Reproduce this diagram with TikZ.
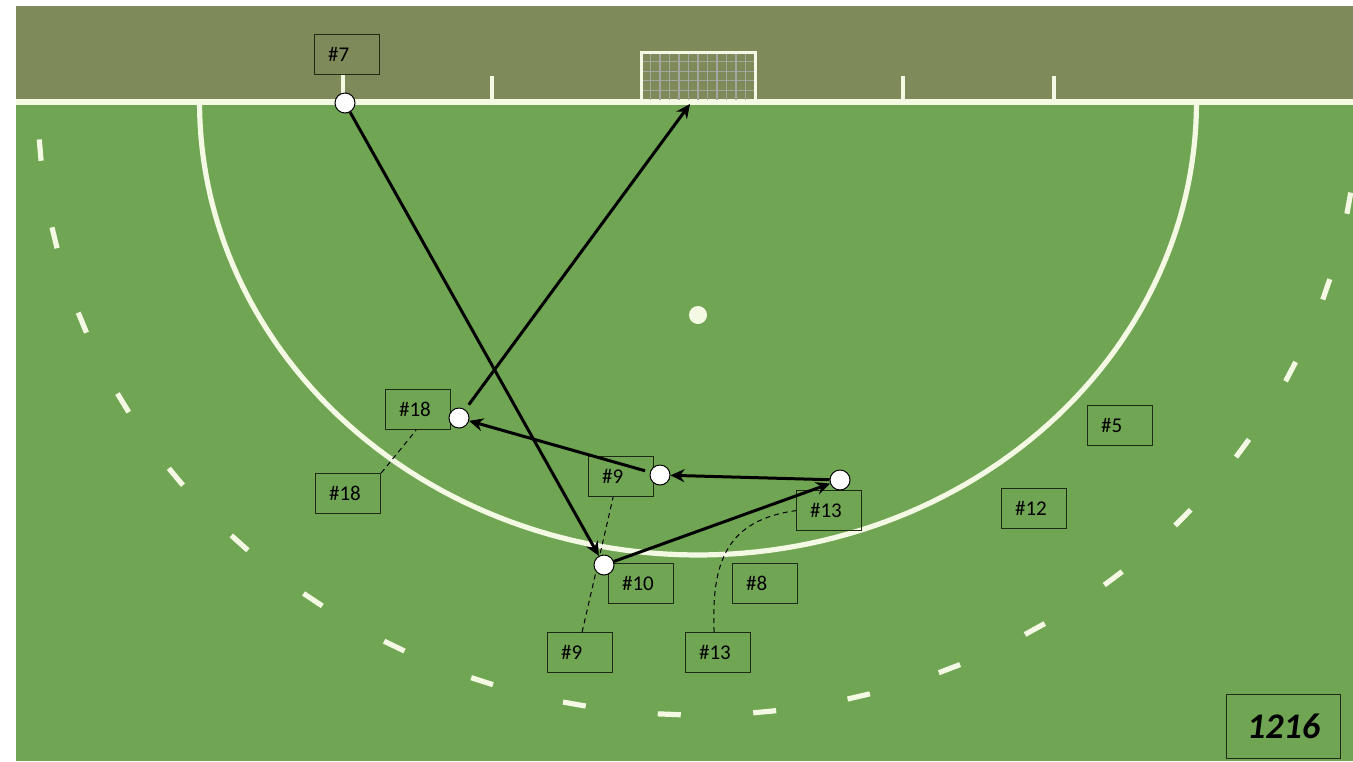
\documentclass[tikz,border=0pt]{standalone}
\usepackage{fontspec}
\setmainfont{Carlito}
\usetikzlibrary{arrows.meta}
\definecolor{turf}{HTML}{70A553}
\definecolor{runoff}{HTML}{7E8A5A}
\definecolor{chalk}{HTML}{F4F9E4}
\definecolor{netgrey}{HTML}{A3A7A0}
\definecolor{frame}{HTML}{1E2A14}

\tikzset{
  player/.style={circle,draw=black,line width=0.5pt,fill=white,minimum size=10pt,inner sep=0pt},
  tag/.style={draw=frame,line width=0.6pt,anchor=north west,minimum height=20pt,text width=19pt,
    inner xsep=6.75pt,inner ysep=0pt,align=left,font=\fontsize{10.5}{12}\selectfont},
  pass/.style={line width=1.5pt,-{Stealth[length=7pt,width=6.5pt]}},
  run/.style={line width=0.5pt,dash pattern=on 2.5pt off 2pt},
  chalkline/.style={chalk,line width=2.6pt},
}

\begin{document}
\begin{tikzpicture}[x=0.5pt,y=-0.5pt]
  \useasboundingbox (0,0) rectangle (1353,761);
  % pitch
  \fill[white] (0,0) rectangle (1353,761);
  \fill[turf] (16,6) rectangle (1353,761);
  \fill[runoff] (16,6) rectangle (1353,100);
  \draw[chalk,line width=3pt] (16,102) -- (1353,102);
  \foreach \tx/\ty in {343/74,492/76,903/76,1054/76}
    \draw[chalk,line width=2pt] (\tx,\ty) -- (\tx,102);
  % shooting circle and dashed 5m line
  \draw[chalkline] plot[domain=180:0,samples=120] ({698+498.5*cos(\x)},{102+453*sin(\x)});
  \begin{scope}
    \clip (16,104) rectangle (1353,761);
    \foreach \t in {9.5,17.8,...,175.6}
      \draw[chalkline] ({698+660*cos(\t-1)},{102+613*sin(\t-1)}) -- ({698+660*cos(\t+1)},{102+613*sin(\t+1)});
  \end{scope}
  \fill[chalk] (698,315) circle[radius=4.5pt];
  % goal
  \foreach \gx in {650.5,660,...,746}
    \draw[netgrey,line width=0.6pt] (\gx,52) -- (\gx,100);
  \foreach \gy in {61.6,71.2,...,91}
    \draw[netgrey,line width=0.6pt] (641,\gy) -- (755,\gy);
  \draw[chalk,line width=1.5pt] (641,100) -- (641,52) -- (755,52) -- (755,100);
  \coordinate (goalmouth) at (690,104);

  % labels
  \node[tag] (t7) at (314,34) {\#7};
  \node[tag] (t18) at (385,389) {\#18};
  \node[tag] (t18run) at (315,473) {\#18};
  \node[tag] (t9) at (588,456) {\#9};
  \node[tag] (t13) at (796,490) {\#13};
  \node[tag] (t10) at (608,563) {\#10};
  \node[tag] (t8) at (732,563) {\#8};
  \node[tag] (t9run) at (547,632) {\#9};
  \node[tag] (t13run) at (685,632) {\#13};
  \node[tag] (t5) at (1087,405) {\#5};
  \node[tag] (t12) at (1001,488) {\#12};
  \node[draw=frame,line width=0.7pt,anchor=north west,minimum width=57pt,minimum height=32pt,
    font=\fontsize{18}{20}\selectfont\bfseries\itshape] (code) at (1226,694) {1216};

  % runs
  \draw[run] (t18run.north east) -- ([xshift=-1pt]t18.south);
  \draw[run] ([xshift=1pt]t9run.north) -- ([xshift=-4pt]t9.south);
  \draw[run] ([xshift=-2pt]t13run.north) .. controls (711,560) and (728,520) .. (t13.west);

  % players
  \node[player] (p7) at (345,103) {};
  \node[player] (p18) at (459,418) {};
  \node[player] (p9) at (660,475) {};
  \node[player] (p13) at (840,480) {};
  \node[player] (p10) at (604,565) {};

  % passes
  \draw[pass] (p7) -- (p10);
  \draw[pass] (p10) -- (p13);
  \draw[pass] (p13) -- (p9);
  \draw[pass,shorten <=2.5pt] (p9) -- (p18);
  \draw[pass,shorten <=3pt] (p18) -- (goalmouth);
\end{tikzpicture}
\end{document}
